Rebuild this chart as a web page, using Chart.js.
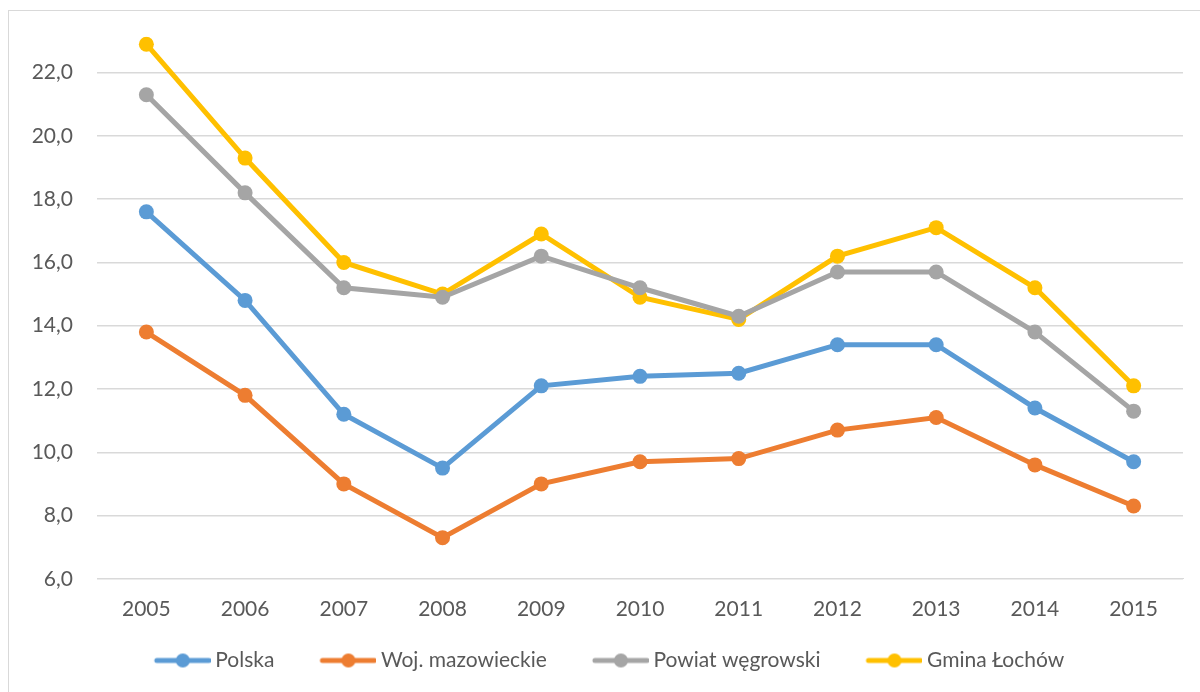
<!DOCTYPE html>
<html>
<head>
<meta charset="utf-8">
<script src="https://cdn.jsdelivr.net/npm/chart.js@4/dist/chart.umd.min.js"></script>
<style>
  html, body { margin: 0; padding: 0; background: #fff; }
  #wrap { position: relative; width: 1200px; height: 692px; overflow: hidden; }
  #frame { position: absolute; left: 8px; top: 10px; width: 1210px; height: 700px; border: 1px solid #d9d9d9; box-sizing: border-box; }
  canvas { position: absolute; left: 0; top: 0; }
</style>
</head>
<body>
<div id="wrap">
  <div id="frame"></div>
  <canvas id="c" width="1200" height="692"></canvas>
</div>
<script>
const years = ["2005","2006","2007","2008","2009","2010","2011","2012","2013","2014","2015"];
const polska = [17.6, 14.8, 11.2, 9.5, 12.1, 12.4, 12.5, 13.4, 13.4, 11.4, 9.7];
const mazowieckie = [13.8, 11.8, 9.0, 7.3, 9.0, 9.7, 9.8, 10.7, 11.1, 9.6, 8.3];
const powiat = [21.3, 18.2, 15.2, 14.9, 16.2, 15.2, 14.3, 15.7, 15.7, 13.8, 11.3];
const gmina = [22.9, 19.3, 16.0, 15.0, 16.9, 14.9, 14.2, 16.2, 17.1, 15.2, 12.1];
const seriesNames = ["Polska", "Woj. mazowieckie", "Powiat węgrowski", "Gmina Łochów"];
const colors = ["#5B9BD5", "#ED7D31", "#A5A5A5", "#FFC000"];
const yTicks = [6, 8, 10, 12, 14, 16, 18, 20, 22];

// legend icon: line with dot; left part of canvas left empty as spacing
function legendIcon(color) {
  const cv = document.createElement('canvas');
  cv.width = 98; cv.height = 18;
  const g = cv.getContext('2d');
  g.strokeStyle = color; g.lineWidth = 5; g.lineCap = 'round';
  g.beginPath(); g.moveTo(44, 9); g.lineTo(96, 9); g.stroke();
  g.fillStyle = color;
  g.beginPath(); g.arc(70, 9, 7, 0, Math.PI * 2); g.fill();
  return cv;
}

const allData = [polska, mazowieckie, powiat, gmina];
const font = { family: "Lato, 'Open Sans', sans-serif", size: 21 };

new Chart(document.getElementById('c'), {
  type: 'line',
  data: {
    labels: years,
    datasets: allData.map((d, i) => ({
      label: seriesNames[i],
      data: d,
      borderColor: colors[i],
      backgroundColor: colors[i],
      borderWidth: 5,
      pointRadius: 7.5,
      pointHoverRadius: 7.5,
      pointBorderWidth: 0,
      pointBackgroundColor: colors[i],
      tension: 0,
      fill: false
    }))
  },
  options: {
    responsive: false,
    animation: false,
    devicePixelRatio: 1,
    layout: { padding: { left: 0, right: 17, top: 0, bottom: 11 } },
    plugins: {
      tooltip: { enabled: false },
      legend: {
        position: 'bottom',
        labels: {
          usePointStyle: true,
          pointStyleWidth: 86,
          padding: 10,
          color: '#595959',
          font: font,
          generateLabels: (chart) => chart.data.datasets.map((ds, i) => ({
            text: ds.label,
            fillStyle: colors[i],
            strokeStyle: colors[i],
            lineWidth: 0,
            pointStyle: legendIcon(colors[i]),
            hidden: false,
            datasetIndex: i,
            fontColor: '#595959'
          }))
        }
      }
    },
    scales: {
      x: {
        offset: true,
        grid: { display: false, drawTicks: false },
        border: { display: true, color: '#d9d9d9', width: 1 },
        ticks: { color: '#595959', font: font, padding: 18, maxRotation: 0 }
      },
      y: {
        min: 6,
        max: 23.14,
        afterBuildTicks: (axis) => { axis.ticks = yTicks.map(v => ({ value: v })); },
        afterFit: (axis) => { axis.width = 97; },
        grid: { color: '#d9d9d9', lineWidth: 1.5, drawTicks: false },
        border: { display: false },
        ticks: {
          color: '#595959', font: font, padding: 24,
          callback: (v) => Number(v).toFixed(1).replace('.', ',')
        }
      }
    }
  }
});
</script>
</body>
</html>
